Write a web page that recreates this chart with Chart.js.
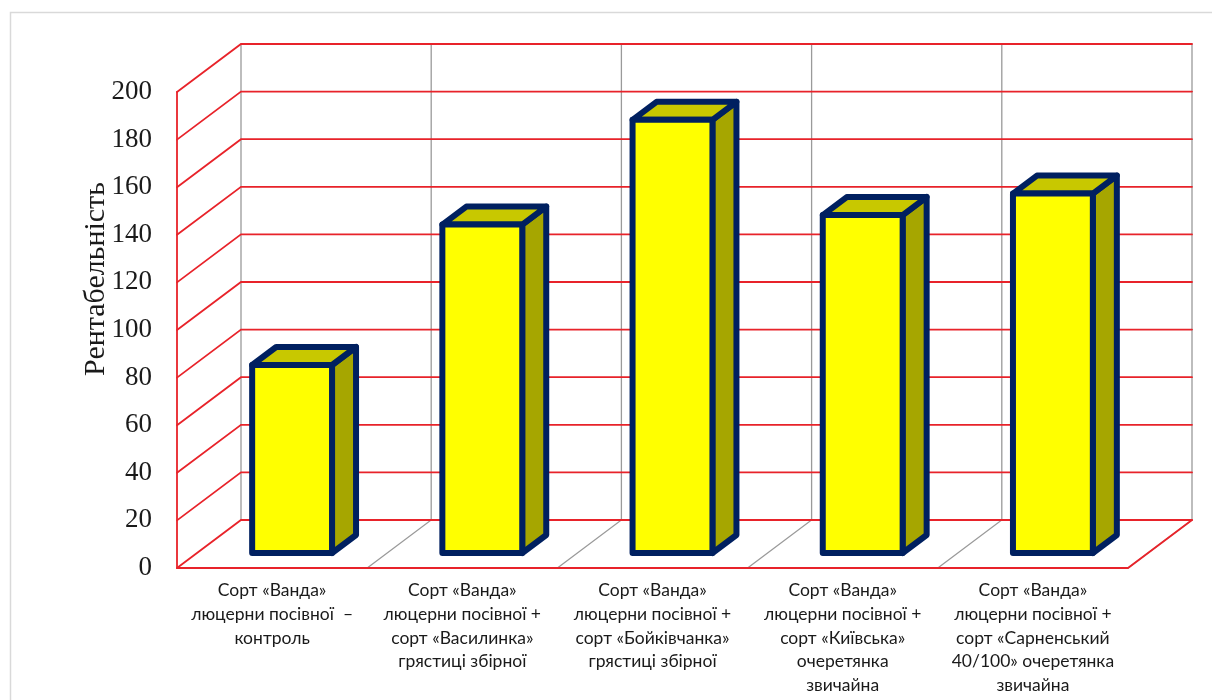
<!DOCTYPE html>
<html>
<head>
<meta charset="utf-8">
<script src="https://cdn.jsdelivr.net/npm/chart.js@4/dist/chart.umd.min.js"></script>
<style>
  html, body { margin: 0; padding: 0; background: #fff; }
  canvas { display: block; }
</style>
</head>
<body>
<canvas id="chart" width="1212" height="700"></canvas>
<script>
const categories = [
  ["Сорт «Ванда»", "люцерни посівної  \u2013", "контроль"],
  ["Сорт «Ванда»", "люцерни посівної +", "сорт «Василинка»", "грястиці збірної"],
  ["Сорт «Ванда»", "люцерни посівної +", "сорт «Бойківчанка»", "грястиці збірної"],
  ["Сорт «Ванда»", "люцерни посівної +", "сорт «Київська»", "очеретянка", "звичайна"],
  ["Сорт «Ванда»", "люцерни посівної +", "сорт «Сарненський", "40/100» очеретянка", "звичайна"],
];
const profitability = [79, 138, 182, 142, 151];
const yTicks = [0, 20, 40, 60, 80, 100, 120, 140, 160, 180, 200];
const axisTitle = "Рентабельність";

// depth of the 3D box (back wall offset)
const DEPTH_X = 64;
const DEPTH_Y = -48;
const BAR_FRONT = 0.3125;
const BAR_BACK = 0.6875;

const RED = "#e8232a";
const GRAY = "#9a9a9a";

const frame3d = {
  id: "frame3d",
  beforeDraw(chart) {
    const c = chart.ctx;
    c.save();
    c.strokeStyle = "#d9d9d9";
    c.lineWidth = 1.5;
    c.beginPath();
    c.moveTo(10.5, 1300);
    c.lineTo(10.5, 12.5);
    c.lineTo(1300, 12.5);
    c.stroke();
    c.restore();
  },
  beforeDatasetsDraw(chart) {
    const c = chart.ctx;
    const y = chart.scales.y;
    const L = chart.chartArea.left, R = chart.chartArea.right;
    const y0 = y.getPixelForValue(0);
    const yTop = y.getPixelForValue(200);
    c.save();
    c.lineCap = "round";

    // category dividers on the back wall and floor
    c.strokeStyle = GRAY;
    c.lineWidth = 1.3;
    const step = (R - L) / categories.length;
    for (let i = 0; i <= categories.length; i++) {
      const fx = L + i * step;
      c.beginPath();
      if (i > 0) {
        c.moveTo(fx, y0);
        c.lineTo(fx + DEPTH_X, y0 + DEPTH_Y);
      } else {
        c.moveTo(fx + DEPTH_X, y0 + DEPTH_Y);
      }
      c.lineTo(fx + DEPTH_X, yTop + DEPTH_Y);
      c.stroke();
    }

    // horizontal grid on back wall + diagonals on left wall
    c.strokeStyle = RED;
    c.lineWidth = 1.8;
    yTicks.forEach((t) => {
      const py = y.getPixelForValue(t);
      c.beginPath();
      c.moveTo(L, py);
      c.lineTo(L + DEPTH_X, py + DEPTH_Y);
      c.lineTo(R + DEPTH_X, py + DEPTH_Y);
      c.stroke();
    });

    // left wall front edge, floor front edge and right floor edge
    c.beginPath();
    c.moveTo(L, yTop);
    c.lineTo(L, y0);
    c.lineTo(R, y0);
    c.lineTo(R + DEPTH_X, y0 + DEPTH_Y);
    c.stroke();
    c.restore();
  },
  afterDatasetsDraw(chart) {
    const c = chart.ctx;
    const meta = chart.getDatasetMeta(0);
    c.save();
    c.lineJoin = "round";
    c.lineWidth = 6;
    c.strokeStyle = "#002060";
    meta.data.forEach((bar) => {
      const w = bar.width;
      const fx = bar.x - w / 2 + DEPTH_X * BAR_FRONT;
      const fy = DEPTH_Y * BAR_FRONT;
      const top = bar.y + fy;
      const base = bar.base + fy;
      const dx = DEPTH_X * (BAR_BACK - BAR_FRONT);
      const dy = DEPTH_Y * (BAR_BACK - BAR_FRONT);

      // side face
      c.fillStyle = "#a6a600";
      c.beginPath();
      c.moveTo(fx + w, top);
      c.lineTo(fx + w + dx, top + dy);
      c.lineTo(fx + w + dx, base + dy);
      c.lineTo(fx + w, base);
      c.closePath();
      c.fill();
      c.stroke();

      // top face
      c.fillStyle = "#c8c800";
      c.beginPath();
      c.moveTo(fx, top);
      c.lineTo(fx + dx, top + dy);
      c.lineTo(fx + w + dx, top + dy);
      c.lineTo(fx + w, top);
      c.closePath();
      c.fill();
      c.stroke();

      // front face
      c.fillStyle = "#ffff00";
      c.beginPath();
      c.rect(fx, top, w, base - top);
      c.fill();
      c.stroke();
    });
    c.restore();
  },
  afterDraw(chart) {
    const c = chart.ctx;
    c.save();
    c.translate(96, 279);
    c.rotate(-Math.PI / 2);
    c.fillStyle = "#1a1a1a";
    c.font = "30px 'Liberation Serif'";
    c.textAlign = "center";
    c.textBaseline = "middle";
    c.fillText(axisTitle, 0, 0);
    c.restore();
  },
};

new Chart(document.getElementById("chart"), {
  type: "bar",
  data: {
    labels: categories,
    datasets: [
      {
        label: axisTitle,
        data: profitability,
        backgroundColor: "transparent",
        borderWidth: 0,
        barPercentage: 0.42,
        categoryPercentage: 1,
      },
    ],
  },
  options: {
    responsive: false,
    animation: false,
    layout: { padding: { top: 92, right: 84, left: 0, bottom: 0 } },
    plugins: { legend: { display: false }, tooltip: { enabled: false } },
    scales: {
      x: {
        grid: { display: false, drawTicks: false },
        border: { display: false },
        ticks: {
          color: "#1a1a1a",
          font: { family: "Lato", size: 17.5, lineHeight: 1.35 },
          padding: 11,
          maxRotation: 0,
          autoSkip: false,
        },
        afterFit(scale) { scale.height = 132; },
      },
      y: {
        min: 0,
        max: 200,
        afterBuildTicks(scale) { scale.ticks = yTicks.map((v) => ({ value: v })); },
        grid: { display: false, drawTicks: false },
        border: { display: false },
        ticks: {
          color: "#1a1a1a",
          font: { family: "Liberation Serif", size: 27 },
          padding: 25,
        },
        afterFit(scale) { scale.width = 177; },
      },
    },
  },
  plugins: [frame3d],
});
</script>
</body>
</html>
